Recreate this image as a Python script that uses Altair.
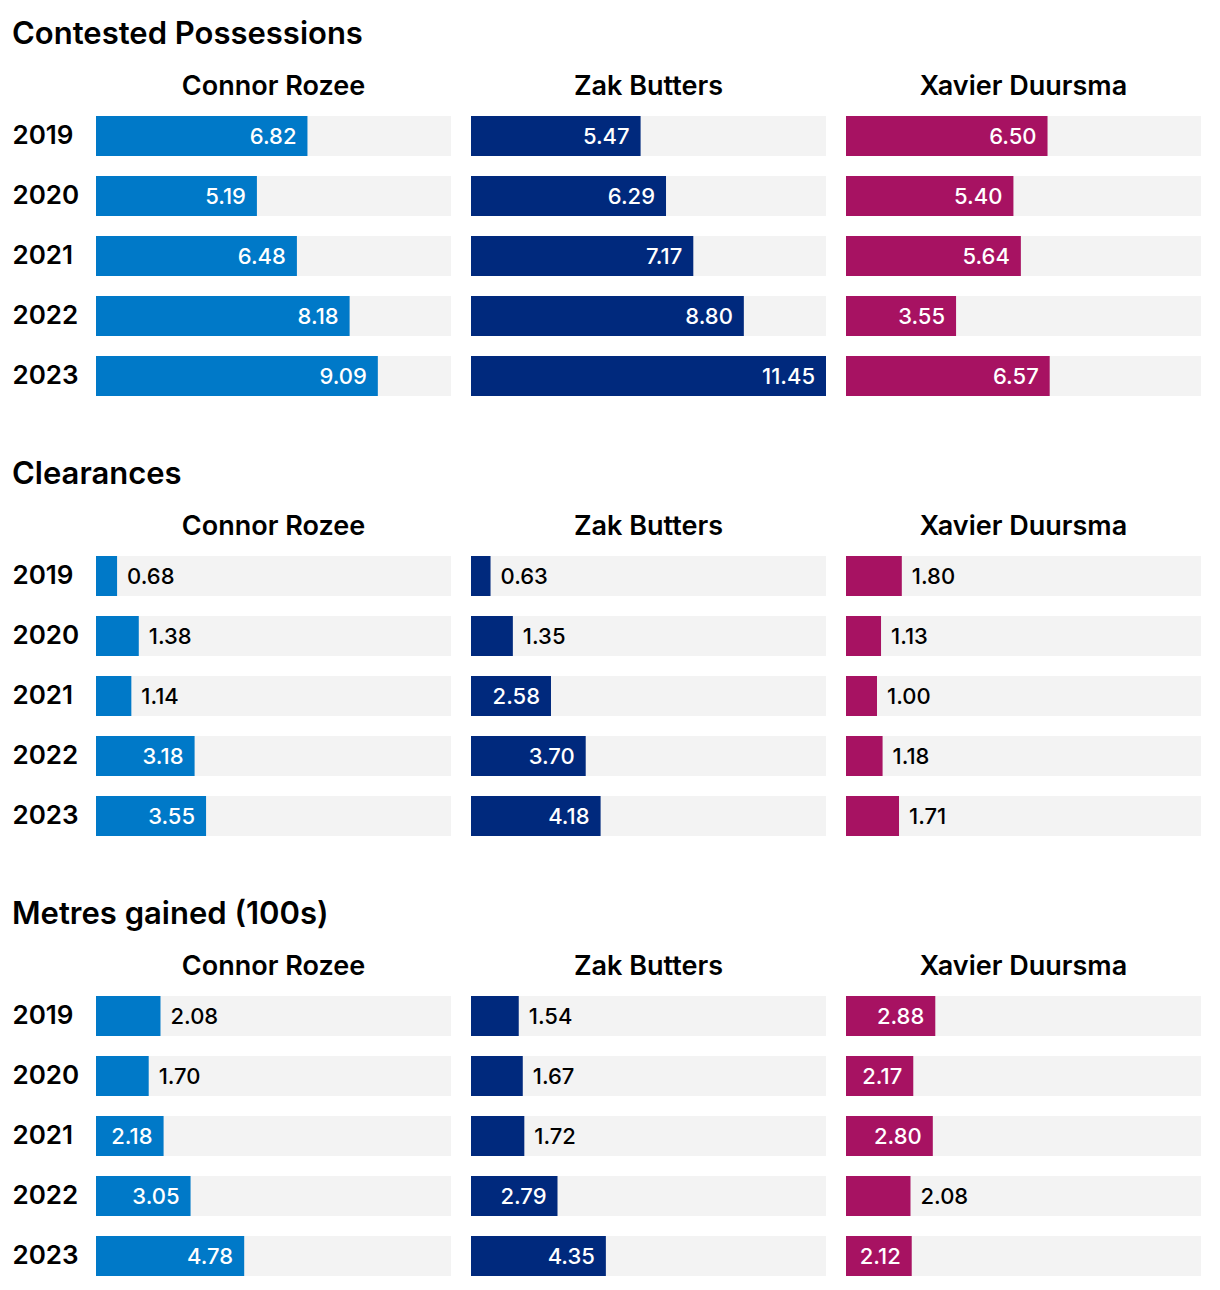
import altair as alt
import pandas as pd

years = ["2019", "2020", "2021", "2022", "2023"]
players = ["Connor Rozee", "Zak Butters", "Xavier Duursma"]
colors = ["#0079c8", "#00297d", "#a71262"]
stats = ["Contested Possessions", "Clearances", "Metres gained (100s)"]

contested_rozee = [6.82, 5.19, 6.48, 8.18, 9.09]
contested_butters = [5.47, 6.29, 7.17, 8.80, 11.45]
contested_duursma = [6.50, 5.40, 5.64, 3.55, 6.57]

clearances_rozee = [0.68, 1.38, 1.14, 3.18, 3.55]
clearances_butters = [0.63, 1.35, 2.58, 3.70, 4.18]
clearances_duursma = [1.80, 1.13, 1.00, 1.18, 1.71]

metres_rozee = [2.08, 1.70, 2.18, 3.05, 4.78]
metres_butters = [1.54, 1.67, 1.72, 2.79, 4.35]
metres_duursma = [2.88, 2.17, 2.80, 2.08, 2.12]

values = {
    "Contested Possessions": [contested_rozee, contested_butters, contested_duursma],
    "Clearances": [clearances_rozee, clearances_butters, clearances_duursma],
    "Metres gained (100s)": [metres_rozee, metres_butters, metres_duursma],
}

vmax = max(max(v) for s in values.values() for v in s)
THRESH = 2.1
FONT = "Inter"


def panel(stat, pi):
    df = pd.DataFrame({
        "year": years,
        "value": values[stat][pi],
        "track": [vmax] * len(years),
    })
    df["label"] = df["value"].map(lambda v: f"{v:.2f}")
    df["inside"] = df["value"] > THRESH

    if pi == 0:
        yaxis = alt.Axis(title=None, labelAlign="left", labelPadding=84, ticks=False,
                         domain=False, labelFontSize=26, labelColor="#000",
                         labelFont=FONT, labelFontWeight=600)
    else:
        yaxis = None
    y = alt.Y("year:N", sort=years, axis=yaxis,
              scale=alt.Scale(paddingInner=1 / 3, paddingOuter=0))
    xscale = alt.Scale(domain=[0, vmax], nice=False, zero=True)
    base = alt.Chart(df)
    track = base.mark_bar(color="#f3f3f3").encode(
        x=alt.X("track:Q", scale=xscale, axis=None), y=y)
    bar = base.mark_bar(color=colors[pi]).encode(
        x=alt.X("value:Q", scale=xscale, axis=None), y=y)
    inside = base.transform_filter("datum.inside").mark_text(
        align="right", baseline="middle", dx=-11, dy=1, color="white",
        font=FONT, fontSize=22, fontWeight=500).encode(
        x=alt.X("value:Q", scale=xscale, axis=None), y=y, text="label:N")
    outside = base.transform_filter("!datum.inside").mark_text(
        align="left", baseline="middle", dx=10, dy=1, color="#000",
        font=FONT, fontSize=22, fontWeight=500).encode(
        x=alt.X("value:Q", scale=xscale, axis=None), y=y, text="label:N")
    return alt.layer(track, bar, inside, outside).properties(
        width=355, height=280,
        title=alt.TitleParams(players[pi], fontSize=27, font=FONT, fontWeight=600,
                              anchor="middle", baseline="bottom", offset=-12,
                              color="#000"))


sections = []
for stat in stats:
    sections.append(
        alt.hconcat(*[panel(stat, i) for i in range(3)], spacing=20).properties(
            title=alt.TitleParams(stat, fontSize=31, font=FONT, fontWeight=600,
                                  anchor="start", baseline="bottom", offset=-9,
                                  color="#000"))
    )

chart = alt.vconcat(*sections, spacing=63).properties(
    padding={"left": 4, "top": 11, "right": 5, "bottom": 5}
).configure_view(stroke=None).configure_concat(spacing=20)

chart.save("out.html", embed_options={"renderer": "svg", "actions": False})
